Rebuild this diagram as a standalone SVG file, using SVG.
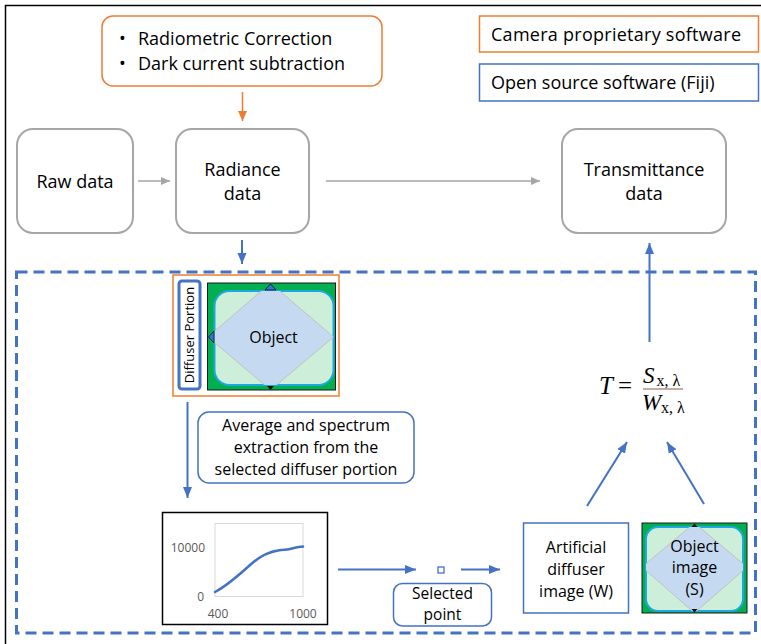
<svg xmlns="http://www.w3.org/2000/svg" width="761" height="644" viewBox="0 0 761 644">
  <style>
    text { font-family: "Open Sans", "Noto Sans", "Liberation Sans", sans-serif; fill: #000; }
    .lbl { font-size: 18px; text-anchor: middle; }
    .sm { font-size: 16px; text-anchor: middle; }
    .grey-box { fill: #fff; stroke: #A6A6A6; stroke-width: 2; }
    .blue-box { fill: #fff; stroke: #4472C4; stroke-width: 1.5; }
    .orange-box { fill: #fff; stroke: #ED7D31; stroke-width: 1.5; }
    .conn-grey { stroke: #A6A6A6; stroke-width: 1.5; fill: none; }
    .conn-blue { stroke: #4472C4; stroke-width: 2; fill: none; }
    .conn-orange { stroke: #ED7D31; stroke-width: 1.5; fill: none; }
    .axis { font-size: 12px; fill: #595959; }
    .math { font-family: "Liberation Serif", "DejaVu Serif", serif; }
  </style>
  <defs>
    <marker id="ah-grey" markerUnits="userSpaceOnUse" markerWidth="10" markerHeight="10" refX="9" refY="5" orient="auto">
      <path d="M0,1 L9,5 L0,9 Z" fill="#A6A6A6"/>
    </marker>
    <marker id="ah-blue" markerUnits="userSpaceOnUse" markerWidth="12" markerHeight="12" refX="11" refY="6" orient="auto">
      <path d="M0,1.5 L11,6 L0,10.5 Z" fill="#4472C4"/>
    </marker>
    <marker id="ah-orange" markerUnits="userSpaceOnUse" markerWidth="12" markerHeight="12" refX="10" refY="6" orient="auto">
      <path d="M0,1.5 L10,6 L0,10.5 Z" fill="#ED7D31"/>
    </marker>
    <clipPath id="clip-obj1">
      <rect x="214.5" y="291" width="119" height="94" rx="15"/>
    </clipPath>
    <clipPath id="clip-obj2">
      <rect x="646" y="527" width="97" height="84" rx="12"/>
    </clipPath>
  </defs>

  <rect width="761" height="644" fill="#fff"/>
  <!-- outer frame -->
  <path d="M5.5,644 V5.5 H761" fill="none" stroke="#000" stroke-width="1.5"/>

  <!-- processing region (Fiji) -->
  <rect x="16.5" y="272" width="739" height="361" fill="none" stroke="#4472C4" stroke-width="3" stroke-dasharray="11 6"/>

  <!-- legend -->
  <g id="legend-camera">
    <rect class="orange-box" x="479.5" y="16" width="279" height="36"/>
    <text x="491" y="41" font-size="18" textLength="250" lengthAdjust="spacing">Camera proprietary software</text>
  </g>
  <g id="legend-fiji">
    <rect class="blue-box" x="479.5" y="64" width="279" height="37"/>
    <text x="491" y="89" font-size="18">Open source software (Fiji)</text>
  </g>

  <g id="corrections">
    <rect class="orange-box" x="102" y="16" width="280" height="70" rx="11"/>
    <text x="119" y="45" font-size="18">•</text>
    <text x="138" y="45" font-size="18">Radiometric Correction</text>
    <text x="119" y="70" font-size="18">•</text>
    <text x="138" y="70" font-size="18">Dark current subtraction</text>
  </g>

  <g id="raw-data">
    <rect class="grey-box" x="17" y="129" width="116" height="104" rx="16"/>
    <text class="lbl" x="75" y="188">Raw data</text>
  </g>
  <g id="radiance-data">
    <rect class="grey-box" x="176" y="129" width="133" height="104" rx="16"/>
    <text class="lbl" x="242.5" y="176">Radiance</text>
    <text class="lbl" x="242.5" y="200">data</text>
  </g>
  <g id="transmittance-data">
    <rect class="grey-box" x="562" y="129" width="164" height="104" rx="16"/>
    <text class="lbl" x="644" y="176">Transmittance</text>
    <text class="lbl" x="644" y="200">data</text>
  </g>

  <!-- radiance frame with diffuser selection -->
  <g id="radiance-frame">
    <rect x="173" y="275" width="166" height="121" fill="#fff" stroke="#ED7D31" stroke-width="1.5"/>
    <rect x="207.5" y="283" width="128" height="107" fill="#00B050" stroke="#1a1a1a" stroke-width="1"/>
    <rect x="214.5" y="291" width="119" height="94" rx="15" fill="#CDEFD9" stroke="#1FA8E0" stroke-width="2"/>
    <polygon points="270.5,283 333.5,337 270.5,390 208,337" fill="#C5DAF0" stroke="#C0C0C0" stroke-width="1" clip-path="url(#clip-obj1)"/>
    <path d="M265,290 L270.5,284 L276,290 Z" fill="#2E75D6" stroke="#111" stroke-width="0.8"/>
    <path d="M214,331 L208.5,337 L214,343 Z" fill="#2E75D6" stroke="#111" stroke-width="0.8"/>
    <path d="M267,386 L270.5,390 L274,386 Z" fill="#111"/>
    <text class="sm" x="273.5" y="343">Object</text>
    <rect x="179" y="281" width="21" height="108" rx="3" fill="#fff" stroke="#4472C4" stroke-width="3"/>
    <text x="194" y="335" font-size="13" text-anchor="middle" transform="rotate(-90 194 335)">Diffuser Portion</text>
  </g>

  <g id="extraction-note">
    <rect class="blue-box" x="198" y="412" width="216" height="71" rx="11"/>
    <text class="sm" x="306" y="431">Average and spectrum</text>
    <text class="sm" x="306" y="453">extraction from the</text>
    <text class="sm" x="306" y="475">selected diffuser portion</text>
  </g>

  <g id="spectrum-chart">
    <rect x="162.5" y="512.5" width="165" height="112" fill="#fff" stroke="#000" stroke-width="1.5"/>
    <rect x="215" y="523.5" width="88" height="73" fill="none" stroke="#D9D9D9" stroke-width="1"/>
    <text class="axis" x="205" y="552" text-anchor="end">10000</text>
    <text class="axis" x="204" y="601" text-anchor="end">0</text>
    <text class="axis" x="218" y="618" text-anchor="middle">400</text>
    <text class="axis" x="303" y="618" text-anchor="middle">1000</text>
    <path d="M215,592 C226,586 238,576 250,565 C260,556 268,552 278,550.5 C286,549.5 288,550 292,548.5 C297,547 300,547 303,546.5" fill="none" stroke="#4472C4" stroke-width="2.5" stroke-linecap="round"/>
  </g>

  <g id="selected-point">
    <rect x="438" y="567" width="6" height="6" fill="#fff" stroke="#4472C4" stroke-width="1.3"/>
    <rect class="blue-box" x="393.5" y="583.5" width="98" height="42.5" rx="9"/>
    <text x="442.5" y="599" font-size="15.5" text-anchor="middle">Selected</text>
    <text x="442.5" y="620" font-size="15.5" text-anchor="middle">point</text>
  </g>

  <g id="artificial-diffuser">
    <rect class="blue-box" x="523.5" y="523" width="105" height="90"/>
    <text class="sm" x="576" y="553">Artificial</text>
    <text class="sm" x="576" y="575">diffuser</text>
    <text class="sm" x="576" y="597">image (W)</text>
  </g>

  <g id="object-image">
    <rect x="642" y="523" width="105" height="90" fill="#00B050" stroke="#1a1a1a" stroke-width="1"/>
    <rect x="646" y="527" width="97" height="84" rx="12" fill="#CDEFD9" stroke="#1FA8E0" stroke-width="2"/>
    <polygon points="694.5,523 747,567 694.5,613 642,567" fill="#C5DAF0" stroke="#C0C0C0" stroke-width="1" clip-path="url(#clip-obj2)"/>
    <path d="M691.5,527 L694.5,523.5 L697.5,527 Z" fill="#111"/>
    <path d="M691.5,609 L694.5,612.5 L697.5,609 Z" fill="#111"/>
    <text class="sm" x="694.5" y="552">Object</text>
    <text class="sm" x="694.5" y="573">image</text>
    <text class="sm" x="694.5" y="595">(S)</text>
  </g>

  <g id="formula">
    <text x="599" y="394" font-size="25" font-style="italic" class="math">T</text>
    <text x="618" y="394" font-size="25" class="math">=</text>
    <text x="643" y="383" font-size="23" font-style="italic" class="math">S</text>
    <text x="656.5" y="386" font-size="16" class="math">x, λ</text>
    <line x1="643" y1="389" x2="683" y2="389" stroke="#8E5B4B" stroke-width="1.2"/>
    <text x="642" y="410" font-size="23" font-style="italic" class="math">W</text>
    <text x="661" y="413" font-size="16" class="math">x, λ</text>
  </g>

  <g id="connectors">
    <line class="conn-orange" x1="242.5" y1="92" x2="242.5" y2="121" marker-end="url(#ah-orange)"/>
    <line class="conn-grey" x1="138" y1="181" x2="170" y2="181" marker-end="url(#ah-grey)"/>
    <line class="conn-grey" x1="326" y1="181" x2="540" y2="181" marker-end="url(#ah-grey)"/>
    <line class="conn-blue" x1="242" y1="240" x2="242" y2="264" stroke-width="1.5" marker-end="url(#ah-blue)"/>
    <line class="conn-blue" x1="187.5" y1="402" x2="187.5" y2="498" stroke-width="1.5" marker-end="url(#ah-blue)"/>
    <line class="conn-blue" x1="338" y1="569.5" x2="416" y2="569.5" stroke-width="1.5" marker-end="url(#ah-blue)"/>
    <line class="conn-blue" x1="461" y1="569.5" x2="500" y2="569.5" stroke-width="1.5" marker-end="url(#ah-blue)"/>
    <line class="conn-blue" x1="649.5" y1="342" x2="649.5" y2="243" marker-end="url(#ah-blue)"/>
    <line class="conn-blue" x1="587" y1="506" x2="627" y2="442" marker-end="url(#ah-blue)"/>
    <line class="conn-blue" x1="704" y1="504" x2="667" y2="442" marker-end="url(#ah-blue)"/>
  </g>
</svg>
